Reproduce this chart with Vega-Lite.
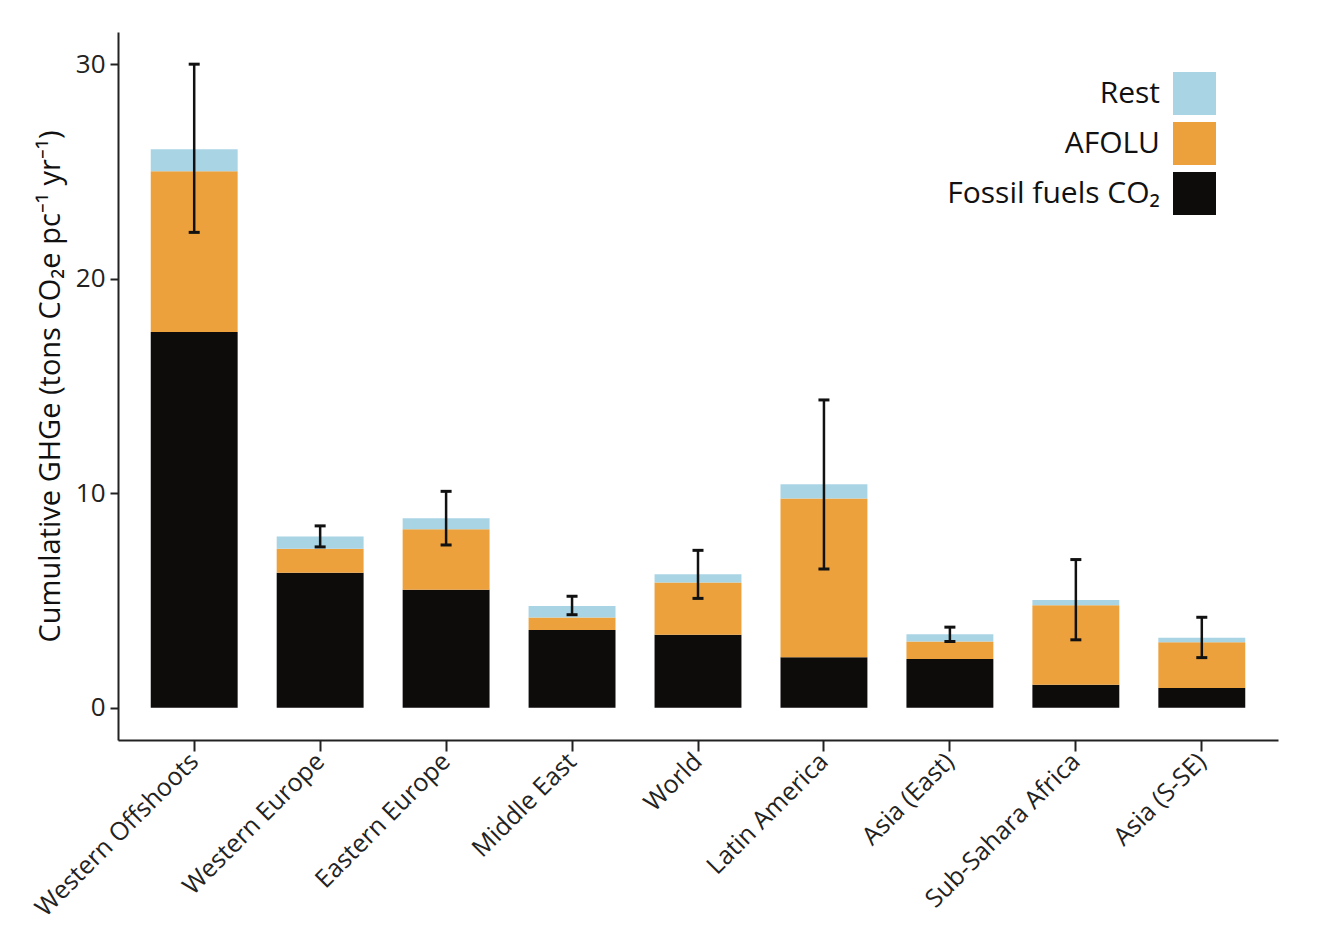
{
  "$schema": "https://vega.github.io/schema/vega-lite/v6.json",
  "width": 1160,
  "height": 708,
  "autosize": {"type": "none"},
  "padding": {"left": 118, "top": 32, "right": 50, "bottom": 198},
  "background": "white",
  "config": {
    "view": {"stroke": null},
    "font": "Open Sans",
    "axis": {"grid": false, "domainColor": "#222222", "domainWidth": 2, "tickColor": "#222222", "tickWidth": 2, "labelColor": "#222222", "titleColor": "#111111", "labelFont": "Open Sans", "titleFont": "Open Sans"}
  },
  "datasets": {
    "bars": [
      {"region": "Western Offshoots", "component": "Fossil fuels CO₂", "stackorder": 1, "value": 17.52},
      {"region": "Western Offshoots", "component": "AFOLU", "stackorder": 2, "value": 7.49},
      {"region": "Western Offshoots", "component": "Rest", "stackorder": 3, "value": 1.03},
      {"region": "Western Europe", "component": "Fossil fuels CO₂", "stackorder": 1, "value": 6.3},
      {"region": "Western Europe", "component": "AFOLU", "stackorder": 2, "value": 1.11},
      {"region": "Western Europe", "component": "Rest", "stackorder": 3, "value": 0.57},
      {"region": "Eastern Europe", "component": "Fossil fuels CO₂", "stackorder": 1, "value": 5.5},
      {"region": "Eastern Europe", "component": "AFOLU", "stackorder": 2, "value": 2.82},
      {"region": "Eastern Europe", "component": "Rest", "stackorder": 3, "value": 0.51},
      {"region": "Middle East", "component": "Fossil fuels CO₂", "stackorder": 1, "value": 3.63},
      {"region": "Middle East", "component": "AFOLU", "stackorder": 2, "value": 0.58},
      {"region": "Middle East", "component": "Rest", "stackorder": 3, "value": 0.54},
      {"region": "World", "component": "Fossil fuels CO₂", "stackorder": 1, "value": 3.4},
      {"region": "World", "component": "AFOLU", "stackorder": 2, "value": 2.44},
      {"region": "World", "component": "Rest", "stackorder": 3, "value": 0.38},
      {"region": "Latin America", "component": "Fossil fuels CO₂", "stackorder": 1, "value": 2.36},
      {"region": "Latin America", "component": "AFOLU", "stackorder": 2, "value": 7.4},
      {"region": "Latin America", "component": "Rest", "stackorder": 3, "value": 0.66},
      {"region": "Asia (East)", "component": "Fossil fuels CO₂", "stackorder": 1, "value": 2.28},
      {"region": "Asia (East)", "component": "AFOLU", "stackorder": 2, "value": 0.81},
      {"region": "Asia (East)", "component": "Rest", "stackorder": 3, "value": 0.34},
      {"region": "Sub-Sahara Africa", "component": "Fossil fuels CO₂", "stackorder": 1, "value": 1.07},
      {"region": "Sub-Sahara Africa", "component": "AFOLU", "stackorder": 2, "value": 3.71},
      {"region": "Sub-Sahara Africa", "component": "Rest", "stackorder": 3, "value": 0.24},
      {"region": "Asia (S-SE)", "component": "Fossil fuels CO₂", "stackorder": 1, "value": 0.92},
      {"region": "Asia (S-SE)", "component": "AFOLU", "stackorder": 2, "value": 2.14},
      {"region": "Asia (S-SE)", "component": "Rest", "stackorder": 3, "value": 0.21}
    ],
    "err": [
      {"region": "Western Offshoots", "lo": 22.16, "hi": 30.0},
      {"region": "Western Europe", "lo": 7.5, "hi": 8.48},
      {"region": "Eastern Europe", "lo": 7.59, "hi": 10.09},
      {"region": "Middle East", "lo": 4.34, "hi": 5.2},
      {"region": "World", "lo": 5.1, "hi": 7.34},
      {"region": "Latin America", "lo": 6.47, "hi": 14.35},
      {"region": "Asia (East)", "lo": 3.09, "hi": 3.76},
      {"region": "Sub-Sahara Africa", "lo": 3.17, "hi": 6.91},
      {"region": "Asia (S-SE)", "lo": 2.34, "hi": 4.22}
    ]
  },
  "encoding": {
    "x": {
      "field": "region", "type": "nominal",
      "sort": ["Western Offshoots", "Western Europe", "Eastern Europe", "Middle East", "World", "Latin America", "Asia (East)", "Sub-Sahara Africa", "Asia (S-SE)"],
      "scale": {"paddingInner": 0.31, "paddingOuter": 0.26},
      "axis": {"title": null, "labelAngle": -45, "labelAlign": "right", "labelBaseline": "middle", "labelFontSize": 25, "labelLimit": 500, "tickSize": 11, "labelPadding": 6}
    }
  },
  "layer": [
    {
      "data": {"name": "bars"},
      "mark": {"type": "bar"},
      "encoding": {
        "y": {
          "field": "value", "type": "quantitative", "stack": "zero",
          "scale": {"domain": [-1.5, 31.5], "nice": false, "zero": false},
          "axis": {"title": "Cumulative GHGe (tons CO₂e pc⁻¹ yr⁻¹)", "values": [0, 10, 20, 30], "labelFontSize": 26, "titleFontSize": 29, "titleFontWeight": "normal", "tickSize": 8, "labelPadding": 5, "titlePadding": 10}
        },
        "color": {
          "field": "component", "type": "nominal",
          "scale": {"domain": ["Rest", "AFOLU", "Fossil fuels CO₂"], "range": ["#a8d4e4", "#eca13c", "#0e0b0b"]},
          "legend": {
            "title": null, "orient": "none", "legendX": 1055, "legendY": 40, "padding": 0,
            "symbolType": "square", "symbolSize": 1849, "symbolStrokeWidth": 0, "symbolOpacity": 1,
            "labelFontSize": 30, "labelAlign": "right", "labelOffset": -56, "labelColor": "#111111",
            "labelFont": "Open Sans", "rowPadding": 7, "labelLimit": 400
          }
        },
        "order": {"field": "stackorder", "type": "quantitative"}
      }
    },
    {
      "data": {"name": "err"},
      "mark": {"type": "rule", "color": "#111111", "strokeWidth": 2.5},
      "encoding": {
        "y": {"field": "lo", "type": "quantitative"},
        "y2": {"field": "hi"}
      }
    },
    {
      "data": {"name": "err"},
      "mark": {"type": "tick", "color": "#111111", "size": 11, "thickness": 3, "opacity": 1},
      "encoding": {"y": {"field": "lo", "type": "quantitative"}}
    },
    {
      "data": {"name": "err"},
      "mark": {"type": "tick", "color": "#111111", "size": 11, "thickness": 3, "opacity": 1},
      "encoding": {"y": {"field": "hi", "type": "quantitative"}}
    }
  ]
}
